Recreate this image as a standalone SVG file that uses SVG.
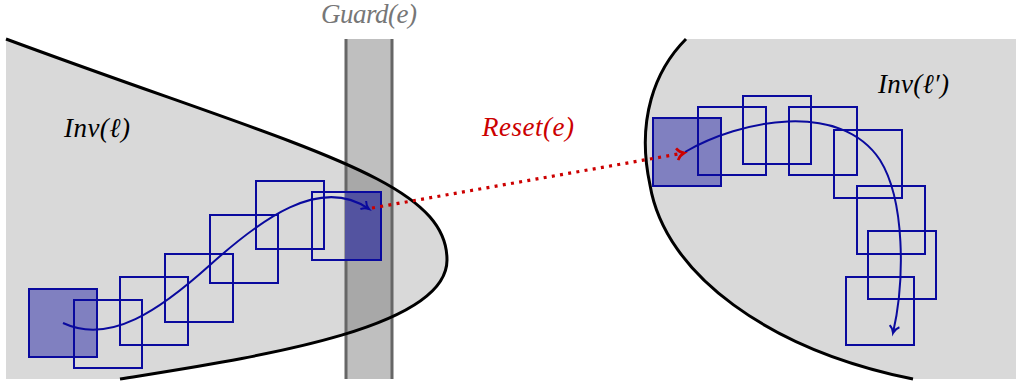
<svg xmlns="http://www.w3.org/2000/svg" width="1016" height="383" viewBox="0 0 1016 383">
<style>
.region{fill:#d9d9d9;stroke:none}
.bound{fill:none;stroke:#000;stroke-width:3}
.sq{fill:none;stroke:#0a0a9e;stroke-width:2}
.sqf{fill:#8080c0;stroke:#0a0a9e;stroke-width:2}
.traj{fill:none;stroke:#0a0a9e;stroke-width:2}
.reset{fill:none;stroke:#cc0000;stroke-width:3.2;stroke-dasharray:3 5.3}
</style>
<defs>
<marker id="arrBlue" viewBox="-10 -10 20 20" refX="0" refY="0" markerWidth="20" markerHeight="20" markerUnits="userSpaceOnUse" orient="auto" overflow="visible">
<path d="M -7 -5 C -5 -2 -2 -0.6 0 0 C -2 0.6 -5 2 -7 5" fill="none" stroke="#0a0a9e" stroke-width="2"/>
</marker>
<marker id="arrRed" viewBox="-10 -10 20 20" refX="0" refY="0" markerWidth="20" markerHeight="20" markerUnits="userSpaceOnUse" orient="auto" overflow="visible">
<path d="M -7 -6 C -5 -2.5 -2 -0.7 0 0 C -2 0.7 -5 2.5 -7 6" fill="none" stroke="#cc0000" stroke-width="2.6"/>
</marker>
</defs>

<g id="inv-l">
<path class="region" d="M 6 39 C 300 148 447 179 447 260 C 447 330 250 358 120 379 L 6 379 Z"/>
</g>

<g id="guard">
<rect x="346" y="39" width="46" height="340" fill="#5f5f5f" fill-opacity="0.4"/>
<line x1="346" y1="39" x2="346" y2="379" stroke="#666" stroke-width="3"/>
<line x1="392" y1="39" x2="392" y2="379" stroke="#666" stroke-width="3"/>
<text x="369" y="23" text-anchor="middle" fill="#777" font-family="Liberation Serif, DejaVu Serif, serif" font-style="italic" font-size="27" textLength="96" lengthAdjust="spacing">Guard(e)</text>
</g>

<g id="inv-l-boundary">
<path class="bound" d="M 6 39 C 300 148 447 179 447 260 C 447 330 250 358 120 379"/>
<text x="64" y="137" fill="#000" font-family="Liberation Serif, DejaVu Serif, serif" font-style="italic" font-size="27" textLength="66" lengthAdjust="spacing">Inv(ℓ)</text>
</g>

<g id="inv-l2">
<path class="region" d="M 686 39 C 655 70 636 120 650 185 C 665 275 770 350 913 379 L 1016 379 L 1016 39 Z"/>
<path class="bound" d="M 686 39 C 655 70 636 120 650 185 C 665 275 770 350 913 379"/>
<text x="878" y="93" fill="#000" font-family="Liberation Serif, DejaVu Serif, serif" font-style="italic" font-size="27" textLength="71" lengthAdjust="spacing">Inv(ℓ′)</text>
</g>

<g id="left-boxes">
<rect class="sqf" x="29" y="289" width="68" height="68"/>
<rect class="sq" x="74" y="300" width="68" height="68"/>
<rect class="sq" x="120" y="277" width="68" height="68"/>
<rect class="sq" x="165" y="254" width="68" height="68"/>
<rect class="sq" x="210" y="215" width="68" height="68"/>
<rect class="sq" x="256" y="181" width="68" height="68"/>
<rect x="345" y="192" width="36" height="68" fill="#5353a0"/>
<rect class="sq" x="312" y="192" width="69" height="68"/>
</g>

<g id="right-boxes">
<rect class="sqf" x="653" y="118" width="68" height="68"/>
<rect class="sq" x="698" y="107" width="68" height="68"/>
<rect class="sq" x="743" y="96" width="68" height="68"/>
<rect class="sq" x="789" y="107" width="68" height="68"/>
<rect class="sq" x="834" y="130" width="68" height="68"/>
<rect class="sq" x="857" y="186" width="68" height="68"/>
<rect class="sq" x="868" y="231" width="68" height="68"/>
<rect class="sq" x="846" y="277" width="68" height="68"/>
</g>

<g id="connectors">
<path class="traj" d="M 63 323 C 110 345 160 310 210 265 C 260 220 320 175 369 209" marker-end="url(#arrBlue)"/>
<path class="traj" d="M 685 152 C 740 120 840 100 880 160 C 905 200 905 280 893 333" marker-end="url(#arrBlue)"/>
<line class="reset" x1="372" y1="208" x2="684" y2="153" marker-end="url(#arrRed)"/>
<text x="482" y="136" fill="#cc0000" font-family="Liberation Serif, DejaVu Serif, serif" font-style="italic" font-size="27" textLength="92" lengthAdjust="spacing">Reset(e)</text>
</g>
</svg>
